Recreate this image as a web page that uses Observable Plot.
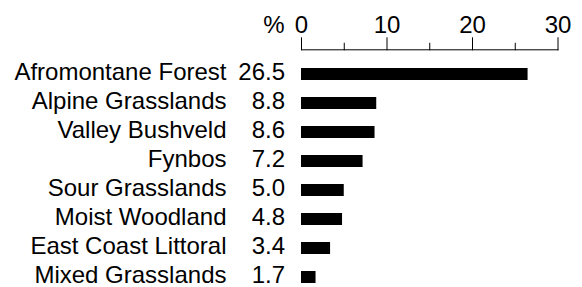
<!DOCTYPE html>
<html>
<head>
<meta charset="utf-8">
<script src="https://cdn.jsdelivr.net/npm/d3@7"></script>
<script src="https://cdn.jsdelivr.net/npm/@observablehq/plot@0.6"></script>
<style>
  html, body { margin: 0; padding: 0; background: #fff; }
</style>
</head>
<body>
<div id="chart"></div>
<script>
const categories = [
  "Afromontane Forest",
  "Alpine Grasslands",
  "Valley Bushveld",
  "Fynbos",
  "Sour Grasslands",
  "Moist Woodland",
  "East Coast Littoral",
  "Mixed Grasslands"
];
const values = [26.5, 8.8, 8.6, 7.2, 5.0, 4.8, 3.4, 1.7];
const majorTicks = [0, 10, 20, 30];
const minorTicks = [5, 15, 25];
const unitLabel = ["%"];

const data = categories.map((c, i) => ({habitat: c, pct: values[i]}));

const chart = Plot.plot({
  width: 582,
  height: 287,
  marginLeft: 301,
  marginRight: 24.5,
  marginTop: 49.3,
  marginBottom: 3.65,
  style: {fontFamily: "'Liberation Sans', Arial, sans-serif", fontSize: "24px", color: "#000", background: "#fff", overflow: "visible"},
  x: {domain: [0, 30]},
  y: {domain: categories, paddingInner: 0.6, paddingOuter: 0, insetTop: 17.85},
  marks: [
    Plot.barX(data, {x: "pct", y: "habitat", fill: "#000"}),
    Plot.text(data, {x: 0, y: "habitat", text: d => d.pct.toFixed(1), textAnchor: "end", dx: -16.5, dy: -2.5, fill: "#000", fontSize: 24}),
    Plot.axisY({tickSize: 0, tickPadding: 75, dy: -2.5, label: null, fill: "#000", fontSize: 24}),
    Plot.axisX({anchor: "top", ticks: majorTicks, tickSize: 13, tickPadding: 4, label: null, tickFormat: d => String(d), stroke: "#000", fill: "#000", fontSize: 24}),
    Plot.axisX({anchor: "top", ticks: minorTicks, tickSize: 7.5, tickFormat: () => "", label: null, stroke: "#000"}),
    Plot.frame({anchor: "top", stroke: "#000"}),
    Plot.text(unitLabel, {x: 0, frameAnchor: "top", text: d => d, dx: -17, dy: -17.3, textAnchor: "end", lineAnchor: "bottom", fill: "#000", fontSize: 24})
  ]
});
document.getElementById("chart").appendChild(chart);
</script>
</body>
</html>
